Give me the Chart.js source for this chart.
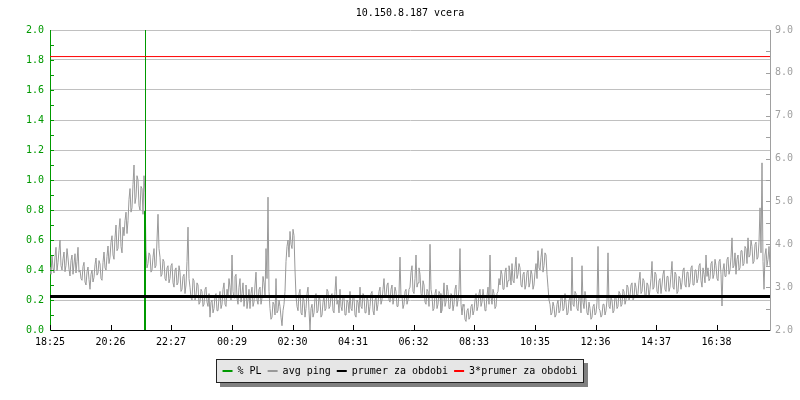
<!DOCTYPE html>
<html><head><meta charset="utf-8">
<script src="https://cdn.jsdelivr.net/npm/chart.js@4.4.1/dist/chart.umd.min.js"></script>
<style>html,body{margin:0;padding:0;background:#fff;} canvas{display:block;}</style>
</head><body>
<canvas id="c" width="800" height="400"></canvas>
<script>
const chartTitle = '10.150.8.187 vcera';
const seriesNames = ['% PL', 'avg ping', 'prumer za obdobi', '3*prumer za obdobi'];
const timeTickMinutes = [0, 121, 242, 364, 485, 606, 727, 848, 970, 1091, 1212, 1333];
const timeTickLabels = ['18:25', '20:26', '22:27', '00:29', '02:30', '04:31', '06:32', '08:33', '10:35', '12:36', '14:37', '16:38'];
const sampleStepMinutes = 2;
const avgPing = [
  3.47,3.30,3.75,3.45,3.33,3.70,3.93,3.38,3.58,3.85,4.10,3.50,3.40,3.66,3.82,3.36,3.51,3.90,3.68,3.42,
  3.26,3.62,3.75,3.30,3.54,3.78,3.33,3.60,3.93,3.35,3.40,3.20,3.16,3.48,3.58,3.12,3.05,3.36,3.47,3.18,
  2.95,3.30,3.40,3.12,3.23,3.52,3.68,3.28,3.33,3.62,3.54,3.20,3.16,3.58,3.82,3.45,3.40,3.72,3.96,3.55,
  3.70,4.05,4.20,3.75,3.65,4.15,4.45,3.85,3.90,4.35,4.60,3.95,3.80,4.40,4.20,4.55,4.75,4.25,4.55,5.05,
  5.30,4.75,4.85,5.40,5.85,4.95,5.10,5.60,5.50,4.90,4.80,5.35,5.30,4.70,5.60,5.20,3.85,3.45,3.55,3.80,
  3.75,3.35,3.40,3.70,3.90,3.45,3.50,4.10,4.70,3.90,3.70,3.25,3.30,3.65,3.60,3.20,3.15,3.45,3.50,3.10,
  3.20,3.50,3.55,3.10,3.00,3.40,3.45,3.05,3.10,3.50,3.35,2.90,2.95,3.25,3.30,2.85,3.05,3.60,4.40,3.20,
  3.00,2.75,2.70,3.20,3.15,2.70,2.80,3.10,3.05,2.60,2.65,2.95,2.90,2.55,2.60,2.95,3.00,2.65,2.55,2.85,
  2.30,2.65,2.70,2.40,2.50,2.80,2.85,2.45,2.45,2.75,2.90,2.50,2.60,2.95,3.10,2.60,2.55,2.95,2.80,3.20,
  3.00,2.70,3.75,2.90,2.75,3.25,3.30,2.75,2.60,3.00,3.20,2.65,2.85,3.10,2.55,2.80,3.05,2.50,2.70,2.95,
  2.50,2.85,3.00,2.55,2.65,3.05,3.35,2.70,2.60,2.95,3.00,2.60,2.75,3.25,3.10,2.80,3.90,3.20,5.10,2.90,
  2.50,2.25,2.30,2.65,2.60,2.35,3.20,2.40,2.45,2.70,2.55,2.30,2.10,2.45,2.60,2.90,3.60,3.95,4.10,3.70,
  4.30,4.00,3.90,4.35,4.20,3.40,2.80,2.55,2.45,2.85,2.95,2.40,2.35,2.75,2.70,2.30,2.50,2.85,3.00,2.45,
  2.00,2.50,2.60,2.30,2.40,2.75,2.85,2.40,2.45,2.80,2.70,2.30,2.35,2.65,2.80,2.45,2.50,2.95,2.90,2.50,
  2.55,2.80,2.85,2.45,2.40,2.90,3.25,2.60,2.70,2.40,2.95,2.55,2.45,2.80,2.75,2.35,2.35,2.70,2.65,2.40,
  2.90,2.50,2.45,2.80,2.75,2.35,2.30,2.70,2.65,2.40,3.00,2.55,2.50,2.85,2.80,2.40,2.40,2.75,2.70,2.35,
  2.55,2.85,2.90,2.45,2.35,2.70,2.75,2.45,2.60,2.90,3.00,2.60,2.70,2.95,3.20,2.75,2.80,3.05,3.10,2.70,
  2.65,2.95,3.05,2.60,2.75,3.00,2.90,2.55,2.55,2.85,3.70,2.75,2.80,2.50,2.60,2.90,2.95,2.60,2.70,2.95,
  3.00,3.35,3.50,2.90,2.85,3.20,3.75,3.00,3.10,3.45,3.30,2.85,2.75,3.15,3.05,2.65,2.60,2.95,2.90,2.55,
  4.00,2.95,2.80,2.45,2.50,2.85,2.95,2.50,2.60,2.90,2.85,2.40,2.45,2.75,3.10,2.55,2.65,3.05,2.90,2.50,
  2.50,2.85,2.80,2.45,2.60,2.95,3.05,2.55,2.70,2.95,3.90,2.60,2.35,2.60,2.55,2.25,2.20,2.45,2.50,2.25,
  2.30,2.55,2.60,2.35,2.45,2.70,2.85,2.45,2.55,2.85,2.95,2.55,2.65,2.95,2.75,2.45,2.50,2.80,3.00,2.60,
  3.75,2.80,2.60,2.95,2.85,2.50,2.55,2.85,2.90,3.20,3.05,3.40,3.30,2.95,2.95,3.35,3.45,3.00,3.15,3.50,
  3.35,3.05,3.55,3.15,3.10,3.45,3.70,3.20,3.30,3.55,3.45,3.05,3.00,3.30,3.35,2.95,3.05,3.35,3.40,3.00,
  3.10,3.40,3.30,2.95,3.05,3.35,3.55,3.20,3.85,3.45,3.40,3.70,3.90,3.35,3.50,3.80,3.75,3.30,3.00,2.70,
  2.60,2.35,2.40,2.65,2.55,2.30,2.35,2.60,2.70,2.40,2.45,2.75,2.80,2.45,2.50,2.85,2.65,2.35,2.40,2.70,
  2.75,2.45,3.70,2.60,2.55,2.90,2.85,2.50,2.45,2.80,2.75,2.40,3.50,2.65,2.50,2.90,2.70,2.40,2.35,2.65,
  2.50,2.25,2.30,2.55,2.60,2.35,2.40,2.65,3.95,2.50,2.45,2.30,2.35,2.60,2.60,2.35,2.45,2.70,3.80,2.55,
  2.50,2.75,2.70,2.40,2.45,2.80,2.75,2.50,2.55,2.90,2.85,2.55,2.60,2.95,2.90,2.60,2.70,3.05,3.00,2.70,
  2.80,3.05,3.10,2.70,2.75,3.10,3.00,2.75,2.85,3.15,3.35,2.85,2.90,3.20,3.15,2.80,2.80,3.10,3.05,2.75,
  2.95,3.20,3.60,2.95,3.00,3.35,3.30,2.90,2.85,3.15,3.20,2.85,3.05,3.30,3.40,2.95,2.90,3.25,3.25,2.90,
  3.00,3.30,3.60,3.00,2.95,3.35,3.30,2.85,2.90,3.25,3.20,2.95,3.10,3.40,3.45,3.05,3.00,3.35,3.35,3.00,
  3.10,3.45,3.50,3.05,3.05,3.40,3.40,3.10,3.20,3.50,3.55,3.15,3.00,3.45,3.30,3.10,3.75,3.25,3.45,3.15,
  3.20,3.55,3.60,3.20,3.30,3.65,3.50,3.20,3.15,3.60,3.65,3.30,2.56,3.40,3.55,3.25,3.25,3.65,3.70,3.30,
  3.40,3.70,4.15,3.45,3.50,3.80,3.30,3.65,3.75,3.40,3.45,3.85,3.85,3.50,3.55,3.95,3.90,3.55,4.15,3.70,
  3.75,4.10,3.95,3.55,3.60,4.00,4.05,3.65,3.70,4.05,4.85,3.80,5.90,3.60,2.95,3.75,3.90,3.50,3.65,3.95,
  3.50
];
const plMinutes = [191, 191, 191, 189, 189];
const plValues = [0, 100, 0.79, 0.79, 0];
const meanMinutes = [0, 1440];
const meanPing = [2.78, 2.78];
const tripleMeanPing = [8.38, 8.38];

const GREEN = '#009900', GRAY = '#999999', AXISGRAY = '#a0a0a0', GRID = '#c0c0c0';
const FONT = '"DejaVu Sans Mono", "Liberation Mono", monospace';
Chart.defaults.font.family = FONT;
Chart.defaults.font.size = 10;

const pts = (xs, ys) => ys.map((v, i) => ({x: xs[i], y: v}));
const pingPoints = avgPing.map((v, i) => ({x: i * sampleStepMinutes, y: v}));

const titleShift = {
  id: 'titleShift',
  afterLayout(chart) {
    const t = chart.titleBlock;
    if (t) { t.left = chart.chartArea.left; t.right = chart.chartArea.right; }
  }
};
const legendFrame = {
  id: 'legendFrame',
  beforeDraw(chart) {
    const hb = chart.legend && chart.legend.legendHitBoxes;
    if (!hb || !hb.length) return;
    const ctx = chart.ctx;
    const first = hb[0], last = hb[hb.length - 1];
    const x0 = Math.round(first.left) - 7, x1 = Math.round(last.left + last.width) + 7;
    const y0 = Math.round(first.top) - 7, y1 = Math.round(first.top + first.height) + 7;
    ctx.save();
    ctx.fillStyle = '#808080';
    ctx.fillRect(x0 + 4, y0 + 4, x1 - x0, y1 - y0);
    ctx.fillStyle = '#e6e6e6';
    ctx.fillRect(x0, y0, x1 - x0, y1 - y0);
    ctx.strokeStyle = '#222';
    ctx.lineWidth = 1;
    ctx.strokeRect(x0 + 0.5, y0 + 0.5, x1 - x0 - 1, y1 - y0 - 1);
    ctx.restore();
  }
};
const axisTicks = {
  id: 'axisTicks',
  afterDatasetsDraw(chart) {
    const ctx = chart.ctx, a = chart.chartArea;
    const yL = chart.scales.yL, yR = chart.scales.yR, xs = chart.scales.x;
    ctx.save();
    ctx.lineWidth = 1;
    ctx.strokeStyle = GREEN;
    ctx.beginPath();
    for (let k = 1; k < 20; k++) {
      const y = Math.round(yL.getPixelForValue(k / 10)) + 0.5;
      ctx.moveTo(a.left, y); ctx.lineTo(a.left + 4, y);
    }
    ctx.stroke();
    ctx.strokeStyle = AXISGRAY;
    ctx.beginPath();
    for (let k = 5; k < 18; k++) {
      const y = Math.round(yR.getPixelForValue(k / 2)) + 0.5;
      ctx.moveTo(a.right - 4, y); ctx.lineTo(a.right, y);
    }
    ctx.stroke();
    ctx.strokeStyle = '#000';
    ctx.beginPath();
    timeTickMinutes.forEach(m => {
      const x = Math.round(xs.getPixelForValue(m)) + 0.5;
      ctx.moveTo(x, a.bottom); ctx.lineTo(x, a.bottom - 5);
    });
    ctx.stroke();
    ctx.restore();
  }
};

new Chart(document.getElementById('c'), {
  type: 'line',
  data: {
    datasets: [
      {label: seriesNames[0], data: pts(plMinutes, plValues), yAxisID: 'yL', borderColor: GREEN, backgroundColor: GREEN, borderWidth: 1, pointRadius: 0, order: 2},
      {label: seriesNames[1], data: pingPoints, yAxisID: 'yR', borderColor: GRAY, backgroundColor: GRAY, borderWidth: 1, pointRadius: 0, order: 3},
      {label: seriesNames[2], data: pts(meanMinutes, meanPing), yAxisID: 'yR', borderColor: '#000000', backgroundColor: '#000000', borderWidth: 3, pointRadius: 0, order: 0},
      {label: seriesNames[3], data: pts(meanMinutes, tripleMeanPing), yAxisID: 'yR', borderColor: '#ff0000', backgroundColor: '#ff0000', borderWidth: 1, pointRadius: 0, order: 1}
    ]
  },
  options: {
    responsive: false,
    animation: false,
    devicePixelRatio: 1,
    parsing: false,
    normalized: true,
    layout: {padding: {bottom: 14}},
    elements: {line: {tension: 0}},
    plugins: {
      title: {display: true, text: chartTitle, color: '#000', font: {size: 10, weight: 'normal', family: FONT}, padding: {top: 7, bottom: 11}},
      legend: {
        position: 'bottom',
        labels: {
          boxWidth: 10, boxHeight: 2, padding: 6, color: '#000', font: {size: 10, family: FONT},
          generateLabels: chart => chart.data.datasets.map((ds, i) => ({
            text: ds.label, fillStyle: ds.borderColor, strokeStyle: ds.borderColor, lineWidth: 0,
            hidden: false, datasetIndex: i, fontColor: '#000'
          }))
        }
      },
      tooltip: {enabled: false}
    },
    scales: {
      x: {
        type: 'linear', position: 'bottom', min: 0, max: 1440,
        grid: {display: false, drawTicks: false},
        border: {display: true, color: '#000', width: 1},
        ticks: {color: '#000', padding: 6, autoSkip: false, maxRotation: 0, callback: (v, i) => timeTickLabels[i]},
        afterBuildTicks: s => { s.ticks = timeTickMinutes.map(v => ({value: v})); },
        afterFit: s => { s.height = 30; }
      },
      yL: {
        type: 'linear', position: 'left', min: 0, max: 2,
        ticks: {stepSize: 0.2, color: GREEN, padding: 6, callback: v => Number(v).toFixed(1)},
        grid: {color: c => (c.tick && Math.abs(c.tick.value) < 1e-9) ? 'rgba(0,0,0,0)' : GRID, drawTicks: false, lineWidth: 1},
        border: {color: GREEN, width: 1},
        afterFit: s => { s.width = 50; }
      },
      yR: {
        type: 'linear', position: 'right', min: 2, max: 9,
        ticks: {stepSize: 1, color: AXISGRAY, padding: 5, callback: v => Number(v).toFixed(1)},
        grid: {drawOnChartArea: false, drawTicks: false},
        border: {color: AXISGRAY, width: 1},
        afterFit: s => { s.width = 30; }
      }
    }
  },
  plugins: [titleShift, legendFrame, axisTicks]
});
</script>
</body></html>
